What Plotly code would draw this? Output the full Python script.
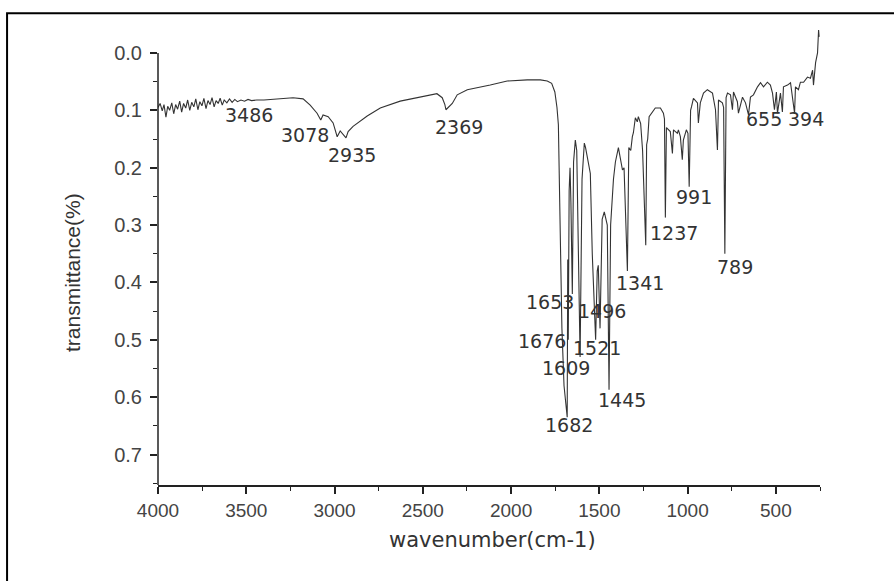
import plotly.graph_objects as go

# ---- data: FTIR spectrum ----
wavenumber = [
    4000, 3988, 3976, 3966, 3955, 3945, 3934, 3922, 3911, 3900, 3889, 3877, 3866, 3855, 3843,
    3832, 3820, 3809, 3797, 3786, 3774, 3763, 3751, 3740, 3728, 3717, 3705, 3694, 3682, 3671,
    3659, 3648, 3636, 3625, 3610, 3595, 3580, 3565, 3550, 3530, 3510, 3490, 3470, 3440, 3400,
    3350, 3308, 3235, 3178, 3138, 3099, 3078, 3065, 3036, 3008, 2985, 2968, 2951, 2935, 2923,
    2895, 2815, 2741, 2628, 2498, 2420, 2390, 2375, 2369, 2350, 2333, 2305, 2248, 2118, 2022,
    1908, 1834, 1795, 1770, 1752, 1740, 1732, 1722, 1712, 1700, 1682, 1679, 1676, 1671, 1666,
    1661, 1653, 1646, 1636, 1628, 1620, 1609, 1598, 1585, 1578, 1568, 1560, 1551, 1540, 1521,
    1512, 1506, 1496, 1484, 1472, 1462, 1455, 1445, 1436, 1420, 1409, 1392, 1380, 1369, 1360,
    1341, 1333, 1322, 1313, 1307, 1296, 1285, 1279, 1266, 1255, 1237, 1232, 1226, 1218, 1200,
    1183, 1154, 1137, 1131, 1126, 1120, 1109, 1098, 1086, 1080, 1069, 1058, 1052, 1041, 1030,
    1024, 1007, 998, 991, 983, 978, 967, 944, 939, 928, 910, 888, 859, 842, 831,
    825, 803, 796, 789, 782, 774, 757, 746, 740, 718, 712, 689, 672, 655, 644,
    627, 604, 587, 570, 548, 531, 519, 508, 497, 491, 474, 463, 457, 434, 417,
    394, 389, 372, 361, 343, 321, 304, 292, 287, 275, 264, 258, 255,
]
transmittance = [
    0.095, 0.088, 0.101, 0.090, 0.112, 0.093, 0.100, 0.087, 0.106, 0.090, 0.098, 0.084, 0.103, 0.088, 0.096,
    0.082, 0.100, 0.086, 0.094, 0.080, 0.099, 0.085, 0.092, 0.079, 0.097, 0.083, 0.090, 0.078, 0.094, 0.083,
    0.088, 0.079, 0.091, 0.082, 0.087, 0.080, 0.086, 0.081, 0.085, 0.082, 0.084, 0.081, 0.083, 0.082, 0.082,
    0.081, 0.080, 0.078, 0.080, 0.091, 0.105, 0.117, 0.108, 0.111, 0.122, 0.146, 0.136, 0.142, 0.148, 0.137,
    0.128, 0.110, 0.096, 0.084, 0.076, 0.071, 0.078, 0.090, 0.099, 0.093, 0.088, 0.073, 0.064, 0.056, 0.049,
    0.047, 0.047, 0.049, 0.053, 0.068, 0.095, 0.125, 0.300, 0.480, 0.580, 0.635, 0.360, 0.500, 0.240, 0.200,
    0.260, 0.420, 0.190, 0.152, 0.170, 0.300, 0.530, 0.220, 0.157, 0.165, 0.183, 0.190, 0.210, 0.350, 0.500,
    0.380, 0.370, 0.480, 0.290, 0.277, 0.295, 0.300, 0.587, 0.300, 0.220, 0.190, 0.165, 0.190, 0.204, 0.200,
    0.380, 0.165, 0.170, 0.146, 0.139, 0.113, 0.120, 0.111, 0.123, 0.170, 0.335, 0.160, 0.150, 0.111, 0.103,
    0.096, 0.096, 0.105, 0.115, 0.287, 0.130, 0.134, 0.137, 0.175, 0.134, 0.137, 0.140, 0.134, 0.146, 0.186,
    0.152, 0.134, 0.140, 0.233, 0.100, 0.094, 0.079, 0.087, 0.122, 0.087, 0.070, 0.064, 0.070, 0.099, 0.169,
    0.082, 0.087, 0.095, 0.350, 0.078, 0.070, 0.073, 0.099, 0.068, 0.085, 0.105, 0.077, 0.087, 0.108, 0.077,
    0.073, 0.059, 0.052, 0.059, 0.051, 0.056, 0.070, 0.099, 0.068, 0.105, 0.070, 0.103, 0.059, 0.056, 0.052,
    0.105, 0.059, 0.064, 0.051, 0.051, 0.042, 0.044, 0.030, 0.056, 0.017, 0.000, -0.040, -0.028,
]

peak_labels = ["3486", "3078", "2935", "2369", "1653", "1496", "1676", "1521", "1609",
               "1445", "1682", "1341", "1237", "991", "789", "655", "394"]

x_tick_vals = [4000, 3500, 3000, 2500, 2000, 1500, 1000, 500]
y_tick_vals = [0.0, 0.1, 0.2, 0.3, 0.4, 0.5, 0.6, 0.7]
x_title = "wavenumber(cm-1)"
y_title = "transmittance(%)"

# ---- label placement (layout) ----
label_pos = [(3484, 0.108), (3167, 0.143), (2900, 0.178), (2294, 0.129), (1778, 0.434),
             (1483, 0.449), (1823, 0.502), (1511, 0.514), (1687, 0.549), (1370, 0.605),
             (1670, 0.648), (1268, 0.401), (1075, 0.314), (961, 0.251), (729, 0.373),
             (565, 0.115), (327, 0.115)]

fig = go.Figure()
fig.add_trace(go.Scatter(
    x=wavenumber, y=transmittance, mode="lines",
    line=dict(color="#333333", width=1.1), showlegend=False, hoverinfo="skip",
))

annotations = []
for txt, (ax, ay) in zip(peak_labels, label_pos):
    annotations.append(dict(x=ax, y=ay, xref="x", yref="y", text=txt, showarrow=False,
                            xanchor="center", yanchor="middle",
                            font=dict(family="DejaVu Sans", size=19, color="#333333")))
annotations.append(dict(x=0.506, y=-0.121, xref="paper", yref="paper", text=x_title,
                        showarrow=False, xanchor="center", yanchor="middle",
                        font=dict(family="DejaVu Sans", size=21, color="#333333")))
annotations.append(dict(x=-0.13, y=0.468, xref="paper", yref="paper", text=y_title,
                        showarrow=False, xanchor="center", yanchor="middle", textangle=-90,
                        font=dict(family="Liberation Sans", size=21, color="#333333")))

shapes = [
    # y axis line from 0.0 down to the x axis
    dict(type="line", xref="paper", yref="y", x0=0, x1=0, y0=0.0, y1=0.753,
         line=dict(color="#222222", width=1.5)),
    # outer frame
    dict(type="rect", xref="paper", yref="paper", x0=-0.228, x1=1.12, y0=-0.25, y1=1.037,
         line=dict(color="#000000", width=2)),
]

fig.update_layout(
    width=894, height=581,
    margin=dict(l=158, r=74, t=30, b=96),
    paper_bgcolor="white", plot_bgcolor="white",
    showlegend=False,
    annotations=annotations, shapes=shapes,
    xaxis=dict(
        range=[4000, 250], tickvals=x_tick_vals, ticktext=[str(v) for v in x_tick_vals],
        ticks="outside", ticklen=7, tickwidth=1.5, tickcolor="#222222",
        minor=dict(dtick=250, tick0=0, ticks="outside", ticklen=4, tickwidth=1.2, tickcolor="#222222"),
        showline=True, linecolor="#222222", linewidth=1.5, showgrid=False, zeroline=False,
        tickfont=dict(family="Liberation Sans", size=19, color="#444444"),
    ),
    yaxis=dict(
        range=[0.753, -0.04], tickvals=y_tick_vals, ticktext=[f"{v:.1f}" for v in y_tick_vals],
        ticks="outside", ticklen=7, tickwidth=1.5, tickcolor="#222222",
        minor=dict(dtick=0.05, tick0=0, ticks="outside", ticklen=4, tickwidth=1.2, tickcolor="#222222"),
        showline=False, showgrid=False, zeroline=False, ticklabelstandoff=4,
        tickfont=dict(family="Liberation Sans", size=20, color="#444444"),
    ),
)

fig.write_html("out.html")
